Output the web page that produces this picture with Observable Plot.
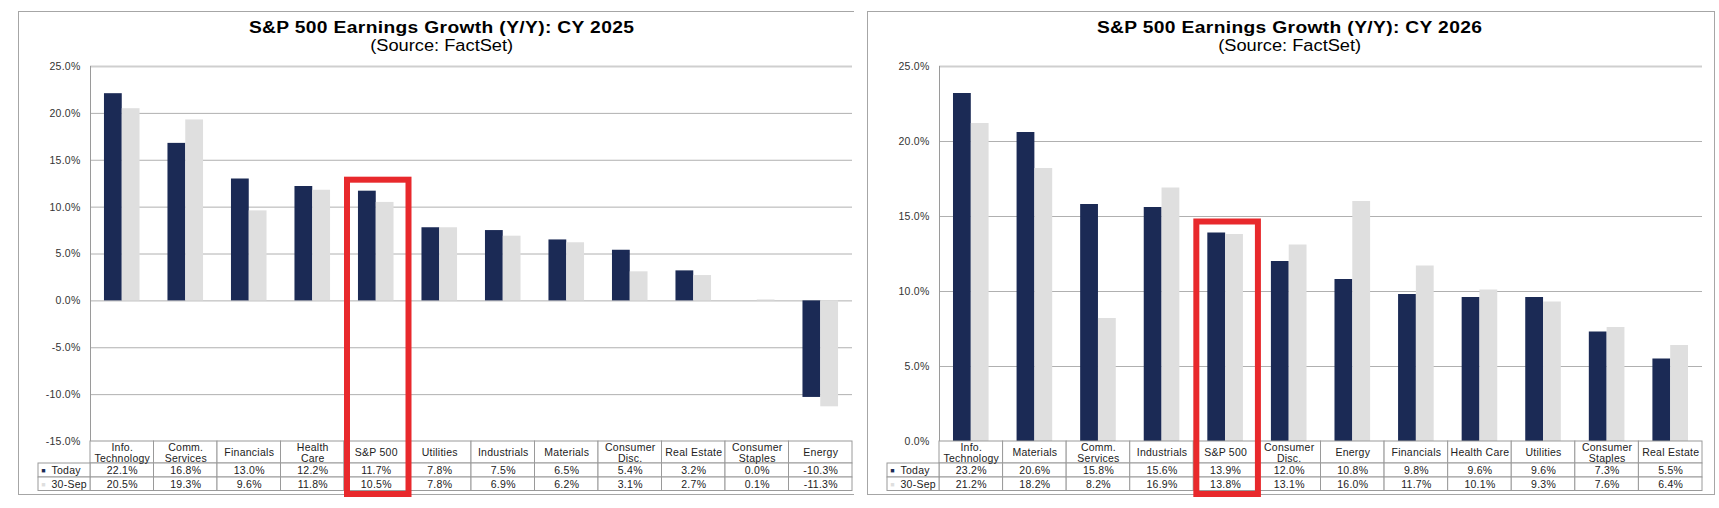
<!DOCTYPE html>
<html>
<head>
<meta charset="utf-8">
<script src="https://cdn.jsdelivr.net/npm/d3@7"></script>
<script src="https://cdn.jsdelivr.net/npm/@observablehq/plot@0.6"></script>
<style>
  html, body { margin: 0; padding: 0; background: #fff; }
  body { width: 1719px; height: 508px; position: relative; overflow: hidden; font-family: "Liberation Sans", Arial, sans-serif; }
  .panel { position: absolute; top: 11px; height: 484px; border: 1px solid #a6a6a6; box-sizing: border-box; }
  .title { position: absolute; width: 700px; text-align: center; color: #000; white-space: nowrap; }
  .title .t { display: inline-block; font-weight: bold; font-size: 16px; line-height: 18px; transform: scaleX(1.2); letter-spacing: 0.3px; }
  .title .s { display: inline-block; font-size: 16px; line-height: 18px; transform: scaleX(1.14); }
  .chart { position: absolute; top: 58px; }
</style>
</head>
<body>
<div class="panel" style="left:18px; width:836px; border-right:none;"></div>
<div class="panel" style="left:867px; width:848px;"></div>

<div class="title" style="left:92px; top:19px;"><span class="t">S&amp;P 500 Earnings Growth (Y/Y): CY 2025</span></div>
<div class="title" style="left:92px; top:37px;"><span class="s">(Source: FactSet)</span></div>
<div class="title" style="left:940px; top:19px;"><span class="t">S&amp;P 500 Earnings Growth (Y/Y): CY 2026</span></div>
<div class="title" style="left:940px; top:37px;"><span class="s">(Source: FactSet)</span></div>

<div id="c25" class="chart" style="left:18px;"></div>
<div id="c26" class="chart" style="left:867px;"></div>

<script>
// ---------- data ----------
const seriesNames = ["Today", "30-Sep"];

const cats25 = ["Info.\nTechnology", "Comm.\nServices", "Financials", "Health\nCare", "S&P 500", "Utilities",
  "Industrials", "Materials", "Consumer\nDisc.", "Real Estate", "Consumer\nStaples", "Energy"];
const today25 = [22.1, 16.8, 13.0, 12.2, 11.7, 7.8, 7.5, 6.5, 5.4, 3.2, 0.0, -10.3];
const sep25   = [20.5, 19.3, 9.6, 11.8, 10.5, 7.8, 6.9, 6.2, 3.1, 2.7, 0.1, -11.3];
const ticks25 = [25, 20, 15, 10, 5, 0, -5, -10, -15];

const cats26 = ["Info.\nTechnology", "Materials", "Comm.\nServices", "Industrials", "S&P 500", "Consumer\nDisc.",
  "Energy", "Financials", "Health Care", "Utilities", "Consumer\nStaples", "Real Estate"];
const today26 = [23.2, 20.6, 15.8, 15.6, 13.9, 12.0, 10.8, 9.8, 9.6, 9.6, 7.3, 5.5];
const sep26   = [21.2, 18.2, 8.2, 16.9, 13.8, 13.1, 16.0, 11.7, 10.1, 9.3, 7.6, 6.4];
const ticks26 = [25, 20, 15, 10, 5, 0];

const highlightCat = "S&P 500";

// ---------- styles ----------
const NAVY = "#1b2a55";
const LIGHT = "#dfdfdf";
const GRID = "#b0b0b0";
const BORDER = "#9a9a9a";
const RED = "#e8292c";
const TXT = "#222";

function panel({cats, today, sep, ticks, width, marginRight}) {
  const height = 445, marginTop = 8, marginBottom = 62, marginLeft = 72;
  const ymin = d3.min(ticks), ymax = d3.max(ticks);
  const n = cats.length;
  const ppu = (height - marginTop - marginBottom) / (ymax - ymin);   // px per % unit
  const bandPx = (width - marginLeft - marginRight) / n;              // px per category
  const yBelow = px => ymin - px / ppu;                                // value at px below plot bottom
  const xLeftPx = px => -px / bandPx;

  const rows = cats.map((c, i) => ({i, cat: c, today: today[i], sep: sep[i]}));
  const bars = rows.flatMap(d => [
    {i: d.i, s: 0, v: d.today},
    {i: d.i, s: 1, v: d.sep}
  ]);
  // table row boundaries (px below plot bottom)
  const rH = [0, 22, 36, 49.5];
  const cells = rows.flatMap(d => [0, 1, 2].map(r => ({i: d.i, r})));
  const legendCells = [1, 2].map(r => ({r}));
  const hiIdx = cats.indexOf(highlightCat);
  const hiTop = Math.max(today[hiIdx], sep[hiIdx]) + 11 / ppu;

  return Plot.plot({
    width, height, marginTop, marginBottom, marginLeft, marginRight,
    x: {type: "linear", domain: [0, n], axis: null},
    y: {type: "linear", domain: [ymin, ymax], axis: null},
    style: {background: "none", maxWidth: "none", overflow: "visible",
            fontFamily: "'Liberation Sans', Arial, sans-serif", fontSize: "10.5px", letterSpacing: "0.25px"},
    marks: [
      // gridlines
      Plot.ruleY(ticks.filter(t => t !== ymax), {x1: 0, x2: n, stroke: GRID, strokeWidth: 1}),
      Plot.ruleY([ymax], {x1: 0, x2: n, stroke: "#cfcfcf", strokeWidth: 2}),
      // bars
      Plot.rect(bars, {
        x1: d => d.i + (d.s === 0 ? 0.22 : 0.5),
        x2: d => d.i + (d.s === 0 ? 0.5 : 0.78),
        y1: 0, y2: d => d.v,
        fill: d => d.s === 0 ? NAVY : LIGHT
      }),
      // left axis line
      Plot.ruleX([0], {y1: ymin, y2: ymax, stroke: BORDER, strokeWidth: 1}),
      // y tick labels
      Plot.text(ticks, {x: 0, y: d => d, text: d => d.toFixed(1) + "%", textAnchor: "end", dx: -10, fill: "#333", fontSize: 10.5}),
      // table cells
      Plot.rect(cells, {
        x1: d => d.i, x2: d => d.i + 1,
        y1: d => yBelow(rH[d.r]), y2: d => yBelow(rH[d.r + 1]),
        fill: "white", stroke: BORDER, strokeWidth: 1
      }),
      Plot.rect(legendCells, {
        x1: xLeftPx(52), x2: 0,
        y1: d => yBelow(rH[d.r]), y2: d => yBelow(rH[d.r + 1]),
        fill: "white", stroke: BORDER, strokeWidth: 1
      }),
      // header labels
      Plot.text(rows, {x: d => d.i + 0.5, y: yBelow(11.5), text: d => d.cat, fill: TXT, lineHeight: 1.0, fontSize: 10.5}),
      // values
      Plot.text(rows, {x: d => d.i + 0.5, y: yBelow(29.5), text: d => d.today.toFixed(1) + "%", fill: TXT, fontSize: 10.5}),
      Plot.text(rows, {x: d => d.i + 0.5, y: yBelow(43), text: d => d.sep.toFixed(1) + "%", fill: TXT, fontSize: 10.5}),
      // legend
      Plot.text(legendCells, {x: xLeftPx(47), y: d => yBelow((rH[d.r] + rH[d.r + 1]) / 2), text: () => "■",
        fill: d => d.r === 1 ? NAVY : LIGHT, fontSize: 7}),
      Plot.text(legendCells, {x: xLeftPx(39), y: d => yBelow((rH[d.r] + rH[d.r + 1]) / 2), text: d => seriesNames[d.r - 1],
        textAnchor: "start", fill: TXT, fontSize: 10.5}),
      // highlight box
      Plot.rect([hiIdx], {
        x1: d => d, x2: d => d + 1, y1: hiTop, y2: yBelow(53),
        fill: "none", stroke: RED, strokeWidth: 6, insetLeft: 3, insetRight: -1
      })
    ]
  });
}

document.getElementById("c25").append(panel({cats: cats25, today: today25, sep: sep25, ticks: ticks25, width: 835, marginRight: 1}));
document.getElementById("c26").append(panel({cats: cats26, today: today26, sep: sep26, ticks: ticks26, width: 848, marginRight: 13}));
</script>
</body>
</html>
